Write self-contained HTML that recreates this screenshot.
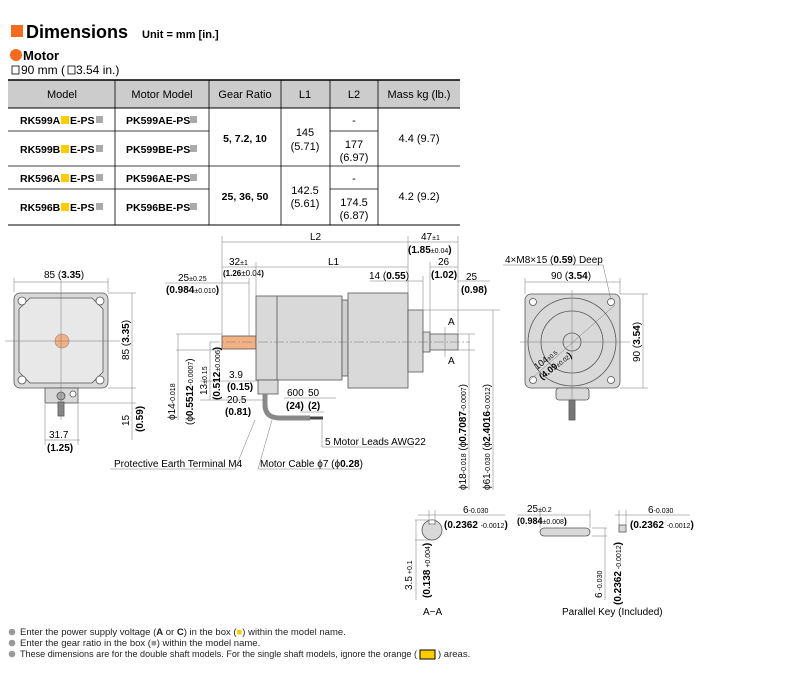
<!DOCTYPE html>
<html><head><meta charset="utf-8"><style>
body{margin:0;background:#fff;}
svg{display:block;font-family:"Liberation Sans",Arial,sans-serif;}
</style></head><body>
<svg width="800" height="685" viewBox="0 0 800 685" xmlns="http://www.w3.org/2000/svg">
<!-- Title -->
<rect x="11" y="25" width="12" height="12" fill="#f26b21"/>
<text x="26" y="38" font-size="18" font-weight="bold">Dimensions</text>
<text x="142" y="38" font-size="11" font-weight="bold">Unit = mm [in.]</text>
<circle cx="16" cy="55" r="6" fill="#f26b21"/>
<text x="23" y="60" font-size="13" font-weight="bold">Motor</text>
<rect x="12" y="66" width="7" height="8" fill="none" stroke="#000" stroke-width="0.8"/>
<text x="21" y="74" font-size="12">90 mm (</text>
<rect x="68" y="66" width="7" height="8" fill="none" stroke="#000" stroke-width="0.8"/>
<text x="76" y="74" font-size="12">3.54 in.)</text>

<!-- Table -->
<rect x="8" y="80" width="452" height="28" fill="#cccccc"/>
<line x1="8" y1="80" x2="460" y2="80" stroke="#000" stroke-width="1.5"/>
<line x1="8" y1="108" x2="460" y2="108" stroke="#000" stroke-width="1"/>
<line x1="8" y1="166" x2="460" y2="166" stroke="#000" stroke-width="0.8"/>
<line x1="8" y1="225" x2="460" y2="225" stroke="#000" stroke-width="1"/>
<g stroke="#000" stroke-width="0.8">
<line x1="8" y1="131" x2="209" y2="131"/><line x1="8" y1="189" x2="209" y2="189"/>
<line x1="330" y1="131" x2="378" y2="131"/><line x1="330" y1="189" x2="378" y2="189"/>
<line x1="115" y1="80" x2="115" y2="225"/><line x1="209" y1="80" x2="209" y2="225"/>
<line x1="281" y1="80" x2="281" y2="225"/><line x1="330" y1="80" x2="330" y2="225"/>
<line x1="378" y1="80" x2="378" y2="225"/>
</g>
<g font-size="11" text-anchor="middle">
<text x="62" y="98">Model</text><text x="162" y="98">Motor Model</text>
<text x="245" y="98">Gear Ratio</text><text x="305" y="98">L1</text>
<text x="354" y="98">L2</text><text x="419" y="98">Mass kg (lb.)</text>
<text x="305" y="136">145</text><text x="305" y="150">(5.71)</text>
<text x="354" y="124">-</text><text x="354" y="148">177</text><text x="354" y="161">(6.97)</text>
<text x="419" y="142">4.4 (9.7)</text>
<text x="305" y="194">142.5</text><text x="305" y="207">(5.61)</text>
<text x="354" y="182">-</text><text x="354" y="206">174.5</text><text x="354" y="219">(6.87)</text>
<text x="419" y="200">4.2 (9.2)</text>
</g>
<g font-size="10.5" font-weight="bold">
<text x="245" y="142" text-anchor="middle">5, 7.2, 10</text>
<text x="245" y="200" text-anchor="middle">25, 36, 50</text>
<text x="20" y="124">RK599A</text><text x="20" y="153">RK599B</text>
<text x="20" y="182">RK596A</text><text x="20" y="211">RK596B</text>
<text x="70" y="124">E-PS</text><text x="70" y="153">E-PS</text>
<text x="70" y="182">E-PS</text><text x="70" y="211">E-PS</text>
<text x="126" y="124">PK599AE-PS</text><text x="126" y="153">PK599BE-PS</text>
<text x="126" y="182">PK596AE-PS</text><text x="126" y="211">PK596BE-PS</text>
</g>
<g fill="#ffcc00"><rect x="61" y="116" width="8" height="8"/><rect x="61" y="145" width="8" height="8"/><rect x="61" y="174" width="8" height="8"/><rect x="61" y="203" width="8" height="8"/></g>
<g fill="#aaa"><rect x="96" y="116" width="7" height="7"/><rect x="96" y="145" width="7" height="7"/><rect x="96" y="174" width="7" height="7"/><rect x="96" y="203" width="7" height="7"/>
<rect x="190" y="116" width="7" height="7"/><rect x="190" y="145" width="7" height="7"/><rect x="190" y="174" width="7" height="7"/><rect x="190" y="203" width="7" height="7"/></g>

<!-- Left front view -->
<g stroke="#555" stroke-width="0.8">
<rect x="14" y="293" width="94" height="95" rx="6" fill="#d9d9d9"/>
<path d="M30 298 H92 L103 309 V372 L92 383 H30 L19 372 V309 Z" fill="#e8e8e8"/>
<rect x="45" y="388" width="33" height="15" fill="#d9d9d9"/>
<circle cx="22" cy="301" r="4" fill="#fff"/><circle cx="100" cy="301" r="4" fill="#fff"/>
<circle cx="22" cy="380" r="4" fill="#fff"/><circle cx="100" cy="380" r="4" fill="#fff"/>
<circle cx="61" cy="396" r="4" fill="#aaa"/><circle cx="73" cy="394" r="3" fill="#fff"/>
<rect x="58" y="402" width="6" height="14" fill="#888"/>
</g>
<circle cx="62" cy="341" r="7" fill="#f4b183" stroke="#888" stroke-width="0.6"/>
<g stroke="#777" stroke-width="0.5" fill="none">
<line x1="5" y1="341" x2="120" y2="341"/><line x1="61" y1="280" x2="61" y2="420"/>
<line x1="14" y1="282" x2="108" y2="282"/><line x1="14" y1="278" x2="14" y2="292"/><line x1="108" y1="278" x2="108" y2="292"/>
<line x1="108" y1="293" x2="136" y2="293"/><line x1="108" y1="388" x2="136" y2="388"/><line x1="78" y1="403" x2="136" y2="403"/>
<line x1="132" y1="293" x2="132" y2="440"/>
<line x1="45" y1="404" x2="45" y2="445"/><line x1="78" y1="404" x2="78" y2="445"/><line x1="45" y1="440" x2="80" y2="440"/>
</g>
<g font-size="10">
<text x="44" y="278">85 (<tspan font-weight="bold">3.35</tspan>)</text>
<text transform="translate(129,360) rotate(-90)">85 (<tspan font-weight="bold">3.35</tspan>)</text>
<text transform="translate(129,426) rotate(-90)">15</text>
<text transform="translate(143,432) rotate(-90)" font-weight="bold">(0.59)</text>
<text x="49" y="438">31.7</text><text x="47" y="451" font-weight="bold">(1.25)</text>
</g>

<!-- Side view -->
<g stroke="#555" stroke-width="0.8">
<rect x="222" y="336" width="34" height="13" fill="#f4b183"/>
<rect x="256" y="296" width="86" height="84" fill="#d9d9d9"/>
<line x1="277" y1="296" x2="277" y2="380"/>
<rect x="342" y="300" width="6" height="76" fill="#cfcfcf"/>
<rect x="348" y="293" width="60" height="95" fill="#d9d9d9"/>
<rect x="408" y="310" width="15" height="62" fill="#d9d9d9"/>
<rect x="423" y="332" width="7" height="20" fill="#d9d9d9"/>
<rect x="430" y="334" width="28" height="16" fill="#d9d9d9"/>
<rect x="258" y="380" width="20" height="14" fill="#d9d9d9"/>
<path d="M265 394 V405 Q265 418 280 418 H310" fill="none" stroke="#888" stroke-width="5"/>
<line x1="310" y1="418" x2="323" y2="418" stroke="#444" stroke-width="3"/>
</g>
<g stroke="#777" stroke-width="0.5" fill="none">
<line x1="210" y1="342" x2="470" y2="342" stroke-dasharray="10,2,2,2"/>
<line x1="222" y1="242" x2="408" y2="242"/><line x1="222" y1="236" x2="222" y2="336"/><line x1="408" y1="236" x2="408" y2="293"/>
<line x1="222" y1="267" x2="408" y2="267"/><line x1="256" y1="262" x2="256" y2="296"/>
<line x1="408" y1="242" x2="458" y2="242"/><line x1="458" y1="236" x2="458" y2="334"/>
<line x1="430" y1="267" x2="458" y2="267"/><line x1="430" y1="262" x2="430" y2="334"/>
<line x1="370" y1="281" x2="423" y2="281"/><line x1="423" y1="276" x2="423" y2="310"/>
<line x1="458" y1="281" x2="490" y2="281"/>
<line x1="165" y1="283" x2="249" y2="283"/><line x1="249" y1="278" x2="249" y2="336"/>
<line x1="176" y1="334" x2="222" y2="334"/><line x1="176" y1="350" x2="222" y2="350"/>
<line x1="178" y1="334" x2="178" y2="420"/><line x1="210" y1="342" x2="210" y2="400"/>
<line x1="200" y1="381" x2="258" y2="381"/><line x1="200" y1="400" x2="265" y2="400"/>
<line x1="423" y1="310" x2="500" y2="310"/><line x1="458" y1="334" x2="475" y2="334"/><line x1="458" y1="350" x2="475" y2="350"/>
<line x1="469" y1="334" x2="469" y2="490"/><line x1="493" y1="310" x2="493" y2="490"/>
<line x1="445" y1="327" x2="445" y2="357"/>
<line x1="284" y1="398" x2="336" y2="398"/><line x1="300" y1="412" x2="324" y2="412"/>
<line x1="322" y1="420" x2="322" y2="447"/><line x1="322" y1="447" x2="414" y2="447"/>
<line x1="255" y1="420" x2="235" y2="469"/><line x1="110" y1="469" x2="235" y2="469"/>
<line x1="272" y1="420" x2="258" y2="469"/><line x1="258" y1="469" x2="362" y2="469"/>
</g>
<g font-size="10">
<text x="310" y="240">L2</text><text x="328" y="265">L1</text>
<text x="421" y="240">47<tspan font-size="7">±1</tspan></text>
<text x="408" y="253" font-weight="bold">(1.85<tspan font-size="7" font-weight="normal">±0.04</tspan>)</text>
<text x="438" y="265">26</text><text x="431" y="278" font-weight="bold">(1.02)</text>
<text x="466" y="280">25</text><text x="461" y="293" font-weight="bold">(0.98)</text>
<text x="369" y="279">14 (<tspan font-weight="bold">0.55</tspan>)</text>
<text x="229" y="265">32<tspan font-size="7">±1</tspan></text>
<text x="223" y="276" font-size="8" font-weight="bold">(1.26<tspan font-weight="normal">±0.04</tspan>)</text>
<text x="178" y="281">25<tspan font-size="7">±0.25</tspan></text>
<text x="166" y="293" font-weight="bold">(0.984<tspan font-size="7" font-weight="normal">±0.010</tspan>)</text>
<text x="448" y="325">A</text><text x="448" y="364">A</text>
<text x="229" y="378">3.9</text><text x="227" y="390" font-weight="bold">(0.15)</text>
<text x="227" y="403">20.5</text><text x="225" y="415" font-weight="bold">(0.81)</text>
<text x="287" y="396">600</text><text x="308" y="396">50</text>
<text x="286" y="409" font-weight="bold">(24)</text><text x="308" y="409" font-weight="bold">(2)</text>
<text x="325" y="445">5 Motor Leads AWG22</text>
<text x="114" y="467">Protective Earth Terminal M4</text>
<text x="260" y="467">Motor Cable ϕ7 (ϕ<tspan font-weight="bold">0.28</tspan>)</text>
<text transform="translate(175,420) rotate(-90)">ϕ14<tspan font-size="7">-0.018</tspan></text>
<text transform="translate(193,425) rotate(-90)">(ϕ<tspan font-weight="bold">0.5512</tspan><tspan font-size="7">-0.0007</tspan>)</text>
<text transform="translate(207,395) rotate(-90)">13<tspan font-size="7">±0.15</tspan></text>
<text transform="translate(220,400) rotate(-90)" font-weight="bold">(0.512<tspan font-size="7" font-weight="normal">±0.006</tspan>)</text>
<text transform="translate(466,490) rotate(-90)">ϕ18<tspan font-size="7">-0.018</tspan> (ϕ<tspan font-weight="bold">0.7087</tspan><tspan font-size="7">-0.0007</tspan>)</text>
<text transform="translate(490,490) rotate(-90)">ϕ61<tspan font-size="7">-0.030</tspan> (ϕ<tspan font-weight="bold">2.4016</tspan><tspan font-size="7">-0.0012</tspan>)</text>
</g>

<!-- Right front view -->
<g stroke="#555" stroke-width="0.8">
<rect x="525" y="294" width="95" height="94" rx="6" fill="#d9d9d9"/>
<circle cx="572" cy="342" r="44" fill="#d9d9d9"/>
<circle cx="572" cy="342" r="31" fill="#d9d9d9"/>
<circle cx="572" cy="342" r="9" fill="#d9d9d9"/>
<circle cx="533" cy="302" r="3.5" fill="#fff"/><circle cx="611" cy="302" r="3.5" fill="#fff"/>
<circle cx="533" cy="380" r="3.5" fill="#fff"/><circle cx="611" cy="380" r="3.5" fill="#fff"/>
<rect x="556" y="388" width="33" height="12" rx="3" fill="#d9d9d9"/>
<rect x="569" y="400" width="6" height="20" fill="#777"/>
</g>
<g stroke="#777" stroke-width="0.5" fill="none">
<line x1="520" y1="342" x2="630" y2="342"/><line x1="572" y1="290" x2="572" y2="400"/>
<line x1="525" y1="282" x2="620" y2="282"/><line x1="525" y1="278" x2="525" y2="294"/><line x1="620" y1="278" x2="620" y2="294"/>
<line x1="620" y1="294" x2="648" y2="294"/><line x1="620" y1="388" x2="648" y2="388"/><line x1="643" y1="294" x2="643" y2="388"/>
<line x1="530" y1="380" x2="615" y2="305"/>
<line x1="503" y1="265" x2="603" y2="265"/><line x1="603" y1="265" x2="611" y2="300"/>
</g>
<g font-size="10">
<text x="505" y="263">4×M8×15 (<tspan font-weight="bold">0.59</tspan>) Deep</text>
<text x="551" y="279">90 (<tspan font-weight="bold">3.54</tspan>)</text>
<text transform="translate(640,362) rotate(-90)">90 (<tspan font-weight="bold">3.54</tspan>)</text>
<text transform="translate(537,370) rotate(-38)" font-size="9">104<tspan font-size="6">±0.5</tspan></text>
<text transform="translate(542,380) rotate(-38)" font-size="9" font-weight="bold">(4.09<tspan font-size="6" font-weight="normal">±0.02</tspan>)</text>
</g>

<!-- A-A -->
<circle cx="432" cy="530" r="10" fill="#d9d9d9" stroke="#555" stroke-width="0.8"/>
<rect x="429" y="520" width="6" height="4" fill="#fff" stroke="#555" stroke-width="0.6"/>
<g stroke="#777" stroke-width="0.5" fill="none">
<line x1="429" y1="510" x2="429" y2="525"/><line x1="435" y1="510" x2="435" y2="525"/>
<line x1="418" y1="515" x2="505" y2="515"/>
<line x1="415" y1="520" x2="428" y2="520"/><line x1="415" y1="540" x2="432" y2="540"/><line x1="416" y1="520" x2="416" y2="600"/>
<line x1="517" y1="515" x2="590" y2="515"/><line x1="540" y1="510" x2="540" y2="528"/><line x1="590" y1="510" x2="590" y2="528"/>
<line x1="592" y1="528" x2="607" y2="528"/><line x1="592" y1="536" x2="607" y2="536"/><line x1="605" y1="528" x2="605" y2="600"/>
<line x1="615" y1="515" x2="690" y2="515"/><line x1="619" y1="510" x2="619" y2="525"/><line x1="626" y1="510" x2="626" y2="525"/>
</g>
<rect x="540" y="528" width="50" height="8" rx="4" fill="#d9d9d9" stroke="#555" stroke-width="0.8"/>
<rect x="619" y="525" width="7" height="7" fill="#d9d9d9" stroke="#555" stroke-width="0.8"/>
<g font-size="10">
<text x="463" y="513">6<tspan font-size="7">-0.030</tspan></text>
<text x="444" y="528" font-weight="bold">(0.2362 <tspan font-size="7" font-weight="normal">-0.0012</tspan>)</text>
<text x="527" y="512">25<tspan font-size="7">±0.2</tspan></text>
<text x="517" y="524" font-weight="bold" font-size="9">(0.984<tspan font-size="7" font-weight="normal">±0.008</tspan>)</text>
<text x="648" y="513">6<tspan font-size="7">-0.030</tspan></text>
<text x="630" y="528" font-weight="bold">(0.2362 <tspan font-size="7" font-weight="normal">-0.0012</tspan>)</text>
<text transform="translate(412,590) rotate(-90)">3.5<tspan font-size="7"> +0.1</tspan></text>
<text transform="translate(430,598) rotate(-90)" font-weight="bold">(0.138<tspan font-size="7" font-weight="normal"> +0.004</tspan>)</text>
<text transform="translate(602,598) rotate(-90)">6<tspan font-size="7"> -0.030</tspan></text>
<text transform="translate(621,605) rotate(-90)" font-weight="bold">(0.2362<tspan font-size="7" font-weight="normal"> -0.0012</tspan>)</text>
<text x="423" y="615">A−A</text>
<text x="562" y="615">Parallel Key (Included)</text>
</g>

<!-- Notes -->
<g font-size="9.5" fill="#222">
<circle cx="12" cy="632" r="3.3" fill="#999"/><text x="20" y="635">Enter the power supply voltage (<tspan font-weight="bold">A</tspan> or <tspan font-weight="bold">C</tspan>) in the box (<tspan fill="#ffcc00">■</tspan>) within the model name.</text>
<circle cx="12" cy="643" r="3.3" fill="#999"/><text x="20" y="646">Enter the gear ratio in the box (<tspan fill="#999">■</tspan>) within the model name.</text>
<circle cx="12" cy="654" r="3.3" fill="#999"/><text x="20" y="657" textLength="397" lengthAdjust="spacingAndGlyphs">These dimensions are for the double shaft models. For the single shaft models, ignore the orange (</text>
<rect x="420" y="650" width="15" height="9" fill="#ffcc00" stroke="#000" stroke-width="1"/>
<text x="438" y="657">) areas.</text>
</g>
</svg>
</body></html>
